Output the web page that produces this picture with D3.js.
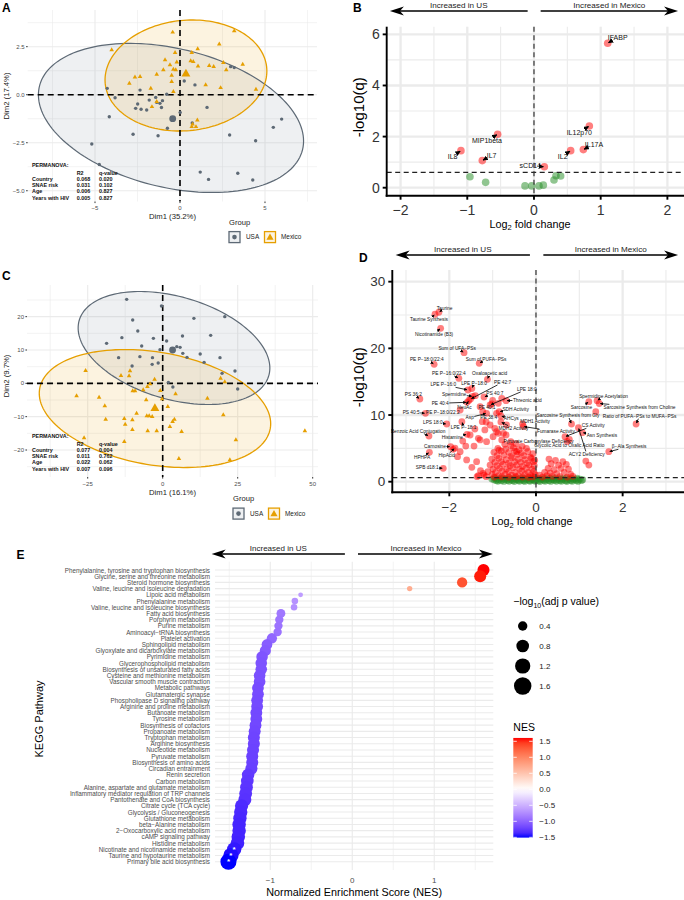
<!DOCTYPE html>
<html>
<head>
<meta charset="utf-8">
<script src="https://cdn.jsdelivr.net/npm/d3@7"></script>
<style>
  body { margin: 0; background: #fff; }
  svg { font-family: "Liberation Sans", Arial, Helvetica, sans-serif; }
</style>
</head>
<body>
<svg id="fig" width="684" height="900"></svg>
<script>
// ---------------- DATA ----------------
// Panel A: PCA of plasma biomarkers (Dim1, Dim2)
const pcaA_usa = [[-4.28,0.33],[-3.82,-0.16],[-2.35,0.24],[-4.16,-1.15],[-2.49,-0.48],[-2.61,-0.71],[-2.29,-0.76],[-1.96,-0.80],[-1.81,-0.28],[-1.37,-0.40],[-1.18,-0.45],[-1.09,-0.67],[-1.03,-0.31],[-1.43,-0.14],[-0.78,0.02],[-0.74,-1.75],[0.01,-0.92],[0.25,0.71],[0.88,0.51],[0.72,-1.47],[1.59,-0.66],[-2.76,-2.06],[-1.29,-2.14],[-5.19,-2.57],[-4.75,-3.63],[1.19,-4.03],[1.68,-4.41],[2.92,-2.10],[3.40,-4.09],[4.28,-4.44],[4.45,-2.40],[5.49,-1.70],[5.98,-1.27],[2.98,1.46],[3.19,1.41]];
const pcaA_mexico = [[-0.43,3.25],[3.19,3.32],[-4.02,2.33],[-0.29,2.19],[0.69,2.19],[1.04,2.38],[2.31,2.63],[-0.88,1.81],[-0.59,1.55],[-0.19,1.69],[0.63,1.76],[0.78,1.72],[-0.98,1.29],[-0.39,1.32],[-0.25,1.29],[-1.37,1.06],[-2.65,0.91],[-2.35,0.94],[-0.49,1.0],[-0.49,0.68],[-2.98,0.59],[-1.72,0.33],[-0.39,0.16],[1.06,1.49],[1.72,1.51],[1.98,1.46],[2.72,1.29],[2.39,0.36],[1.51,0.51],[-1.37,-0.36],[-1.65,-0.63],[1.02,-1.32],[0.74,-1.54],[0.69,-1.67],[0.94,-1.67],[2.55,1.67],[3.69,1.58],[4.47,0.28]];
const pcaA_centroids = [[-0.43,-1.25],[0.35,1.08]];          // USA, Mexico
// ellipse: centre x, centre y, half width, half height, tilt phase
const ellipseA_usa = [-0.53,-1.21,7.8,3.88,-0.315];
const ellipseA_mexico = [0.35,1.0,4.76,2.89,0.08];
const permTerms = ["Country","SNAE risk","Age","Years with HIV"];
const permA_R2 = ["0.068","0.031","0.006","0.005"];
const permA_q  = ["0.020","0.102","0.827","0.827"];

// Panel C: PCA of metabolome
const pcaC_usa = [[-12.0,25.2],[-0.4,23.2],[-10.0,19.0],[-8.3,15.7],[-18.7,12.0],[-13.6,13.7],[-7.0,11.2],[-3.1,13.5],[1.3,12.7],[-0.9,10.1],[4.7,11.0],[5.8,10.8],[6.7,9.0],[8.1,7.8],[6.6,14.2],[10.4,19.5],[16.0,14.4],[12.5,8.8],[13.8,6.3],[19.1,7.7],[20.7,20.0],[-14.7,7.7],[-10.2,5.2],[-7.6,8.0],[-3.4,7.7],[-3.5,5.7],[-1.5,6.1],[1.9,0.3],[3.4,-1.1],[19.8,3.0],[24.1,3.7],[25.0,-1.7]];
const pcaC_mexico = [[-25.7,3.8],[-28.7,-3.8],[-21.2,-4.2],[-19.3,-6.8],[-19.0,-10.8],[-26.2,-16.4],[-12.8,-10.6],[-12.5,-12.3],[-12.8,-17.5],[-10.1,-13.9],[-8.7,-9.0],[-10.1,-11.0],[-13.9,2.3],[-11.2,2.2],[-10.9,3.75],[-10.0,-2.3],[-9.2,-2.3],[-6.5,-2.0],[-5.1,-1.0],[-4.2,-0.2],[-2.7,1.2],[-5.5,-5.0],[-5.3,-9.8],[-4.5,-9.8],[-3.5,-10.0],[-5.0,-14.3],[-2.0,-14.3],[-0.8,-2.2],[-0.2,-4.7],[1.7,-7.0],[2.4,-13.0],[3.3,-11.5],[3.9,-10.8],[4.3,-3.2],[6.3,-14.5],[5.4,-22.6],[14.9,-4.5],[20.2,-9.5],[19.3,1.5],[20.7,0.4],[22.4,-23.0],[24.4,-17.0],[47.4,-14.3]];
const pcaC_centroids = [[3.3,10.0],[-2.6,-7.5]];
const ellipseC_usa = [3.77,10.6,31.95,16.95,-0.362];
const ellipseC_mexico = [-2.57,-7.56,38.57,17.7,-0.26];
const permC_R2 = ["0.077","0.011","0.022","0.007"];
const permC_q  = ["0.004","0.762","0.062","0.096"];

// Panel B: cytokine volcano
const cytoNames = ["IFABP","IL12p70","IL17A","IL2","sCD14","MIP1beta","IL8","IL7"];
const cytoLFC   = [1.105,0.83,0.74,0.55,0.155,-0.545,-1.095,-0.775];
const cytoLogQ  = [5.65,2.415,1.49,1.45,0.82,2.09,1.45,1.06];
const cytoLabX  = [1.255,0.68,0.90,0.43,-0.055,-0.705,-1.22,-0.635];
const cytoLabY  = [5.89,2.17,1.71,1.24,0.86,1.84,1.24,1.27];
const cytoNS    = [[-0.96,0.43],[-0.725,0.21],[-0.135,0.07],[-0.035,0.07],[0.075,0.07],[0.14,0.10],[0.30,0.30],[0.33,0.47],[0.40,0.46]];

// Panel D: metabolite volcano, labelled hits
const metNames = ["Taurine","Taurine Synthesis","Nicotinamide (B3)","Sum of UFA\u2212PSs","Sum of PUFA\u2212PSs","PE P\u221218:0/22:4","PE P\u221216:0/22:4","Oxaloacetic acid","LPE P\u221216:0","LPE P\u221218:0","PE 42:7","Spermidine","PS 40:7","LPE 18:0","Threonic acid","PS 36:2","PE 40:4","NeuAc","PE 40:1","SDH Activity","PS 40:5","PE P\u221218:0/22:2","Asp","PE 38:4","AHCys","LPS 18:0","LPE P\u221218:1","MDH2 Activity","Benzoic Acid Conjugation","Histamine","Carnosine","HipAcid","HPHPA","SPB d18:1","MDH1 Activity","Fumarase Activity","Pyruvate Carboxylase Deficiency","Glycolic Acid to Oxalic Acid Ratio","Sarcosine Synthesis from Gly","CS Activity","Asn Synthesis","ACY2 Deficiency","\u03b2\u2212Ala Synthesis","Spermidine Acetylation","Sarcosine","Sarcosine Synthesis from Choline","Ratio of PUFA\u2212PSs to MUFA\u2212PSs"];
const metLFC  = [-2.24,-2.33,-2.20,-1.66,-1.31,-2.35,-1.78,-1.12,-1.57,-1.48,-1.51,-1.46,-1.20,-1.06,-0.69,-2.68,-1.59,-1.55,-1.02,-0.85,-2.55,-1.75,-1.14,-1.15,-0.81,-2.06,-1.71,-0.81,-2.47,-1.59,-1.97,-1.87,-2.46,-2.14,-0.31,-0.29,0.77,0.72,0.82,0.67,1.07,0.98,1.68,1.41,1.22,1.46,2.31];
const metLogQ = [25.41,25.11,23.01,19.35,17.76,17.61,15.51,15.36,13.75,13.98,12.40,12.81,12.70,11.50,12.15,12.40,11.91,12.18,11.65,10.50,10.26,10.75,10.26,8.95,9.85,8.65,9.00,8.95,6.85,7.11,5.25,5.05,4.41,2.01,8.65,8.28,6.36,6.03,8.65,6.75,7.35,8.10,4.50,12.15,12.00,11.73,8.65];
const metLabX = [-2.11,-2.47,-2.35,-1.82,-1.15,-2.52,-2.01,-1.07,-2.14,-1.43,-0.77,-1.89,-0.95,-0.21,-0.20,-2.83,-2.21,-1.65,-1.13,-0.47,-2.88,-2.15,-1.53,-1.09,-0.57,-2.38,-1.67,-0.52,-2.72,-1.93,-2.33,-2.06,-2.63,-2.51,-0.02,0.46,0.06,0.77,0.74,1.32,1.52,1.17,2.15,1.56,1.05,2.39,2.39];
const metLabY = [26.01,24.30,22.15,20.01,18.36,18.30,16.26,16.20,14.55,14.70,14.91,13.11,13.26,13.86,12.25,13.11,11.76,11.10,11.10,10.90,10.41,10.41,9.60,9.60,9.51,8.95,8.16,8.01,7.60,6.66,5.35,3.90,3.66,2.16,9.10,7.50,6.10,5.50,9.95,8.40,7.00,4.15,5.25,12.85,11.20,11.20,9.85];
// other significant metabolites (log2FC, -log10 q)
const metSigOther = [[1.38,10.5],[1.15,3.1],[1.22,2.5],[-1.29,6.26],[-1.18,7.76],[-1.06,8.5],[-0.95,8.01],[-0.87,7.26],[-0.99,6.75],[-0.79,6.26],[-0.69,7.0],[-0.58,6.0],[-0.45,4.5],[-0.85,4.75],[-1.29,11.25],[-1.23,10.5],[-0.91,10.26],[-0.87,11.76],[-0.79,12.51],[-1.62,5.35],[-1.43,5.35],[-1.69,6.1],[-1.91,4.86],[-1.81,3.75],[-1.6,3.26],[-1.48,2.16],[-1.37,3.0],[-1.28,1.65],[-1.15,0.75],[-1.41,7.9],[-1.24,9.0],[-1.33,6.51],[-0.91,7.5],[-0.75,7.26],[-0.68,8.5],[-1.75,4.5],[-1.14,6.0],[-1.33,0.9],[-1.22,1.26],[-1.52,7.0],[-1.40,12.9],[-1.0,12.2],
[-0.72,5.6],[-0.58,5.4],[-0.46,5.7],[-0.32,5.3],[-0.88,5.0],[-0.7,4.9],[-0.52,5.1],[-0.39,4.8],[-0.22,5.0],[-0.97,4.4],[-0.8,4.6],[-0.63,4.4],[-0.49,4.6],[-0.34,4.3],[-0.19,4.5],[-0.07,4.2],[-0.9,3.9],[-0.74,4.0],[-0.58,3.8],[-0.43,4.1],[-0.28,3.9],[-0.13,3.7],[-1.02,3.4],[-0.86,3.5],[-0.69,3.3],[-0.55,3.6],[-0.41,3.4],[-0.26,3.3],[-0.11,3.5],[-0.03,3.2],[-0.95,2.9],[-0.8,3.0],[-0.63,2.8],[-0.49,3.0],[-0.35,2.9],[-0.2,2.8],[-0.06,3.0],[-1.06,2.5],[-0.9,2.4],[-0.76,2.6],[-0.6,2.4],[-0.45,2.5],[-0.31,2.3],[-0.16,2.5],[-0.04,2.4],[-0.99,1.9],[-0.84,2.0],[-0.68,1.9],[-0.53,2.1],[-0.38,1.9],[-0.23,2.0],[-0.09,1.9],[-1.11,1.5],[-0.93,1.4],[-0.78,1.6],[-0.63,1.5],[-0.48,1.4],[-0.33,1.6],[-0.18,1.4],[-0.05,1.5],[-1.2,1.0],[-1.01,1.1],[-0.86,0.9],[-0.71,1.1],[-0.56,1.0],[-0.41,0.9],[-0.26,1.1],[-0.12,0.95],[-0.02,1.05],[-1.36,0.75],[-0.96,0.7],[-0.79,0.72],[-0.63,0.68],[-0.47,0.74],[-0.31,0.7],[-0.17,0.66],[-0.07,0.72],
[0.3,3.4],[0.45,3.2],[0.62,3.0],[0.35,2.7],[0.52,2.5],[0.7,2.6],[0.28,2.0],[0.42,1.8],[0.58,2.0],[0.75,1.9],[0.33,1.3],[0.48,1.2],[0.65,1.4],[0.8,1.1],[0.38,0.8],[0.55,0.75],[0.72,0.7],[0.25,0.9],[0.85,0.8],[0.08,1.0],[0.15,0.7],[0.2,1.4]];
// non significant metabolites
const metNS = [[-0.95,0.52],[-0.82,0.55],[-0.7,0.5],[-0.6,0.54],[-0.48,0.51],[-0.36,0.56],[-0.25,0.5],[-0.12,0.53],[-0.03,0.55],[0.08,0.5],[0.2,0.54],[0.33,0.52],[0.45,0.56],[0.58,0.5],[0.7,0.53],[0.83,0.51],[0.95,0.55],
[-1.02,0.4],[-0.9,0.38],[-0.77,0.42],[-0.65,0.39],[-0.52,0.41],[-0.42,0.37],[-0.3,0.42],[-0.18,0.4],[-0.07,0.38],[0.04,0.41],[0.15,0.39],[0.27,0.42],[0.4,0.38],[0.52,0.4],[0.63,0.42],[0.77,0.37],[0.9,0.4],[1.02,0.39],
[-0.97,0.28],[-0.85,0.26],[-0.72,0.3],[-0.58,0.27],[-0.46,0.29],[-0.34,0.25],[-0.22,0.28],[-0.1,0.3],[0.0,0.26],[0.11,0.29],[0.23,0.27],[0.36,0.3],[0.48,0.26],[0.6,0.28],[0.72,0.25],[0.86,0.29],[0.98,0.27],[1.08,0.3],
[-0.92,0.16],[-0.8,0.14],[-0.66,0.18],[-0.54,0.15],[-0.41,0.17],[-0.28,0.13],[-0.15,0.16],[-0.05,0.18],[0.06,0.14],[0.18,0.17],[0.3,0.15],[0.42,0.18],[0.55,0.14],[0.68,0.16],[0.8,0.13],[0.93,0.17],[1.05,0.15],
[-0.88,0.05],[-0.74,0.04],[-0.62,0.07],[-0.5,0.03],[-0.38,0.06],[-0.26,0.04],[-0.14,0.07],[-0.02,0.05],[0.09,0.03],[0.21,0.06],[0.34,0.04],[0.47,0.07],[0.59,0.05],[0.71,0.03],[0.84,0.06],[0.97,0.04]];

// Panel E: KEGG pathway enrichment
const keggPathways = ["Phenylalanine, tyrosine and tryptophan biosynthesis","Glycine, serine and threonine metabolism","Steroid hormone biosynthesis","Valine, leucine and isoleucine degradation","Lipoic acid metabolism","Phenylalanine metabolism","Valine, leucine and isoleucine biosynthesis","Fatty acid biosynthesis","Porphyrin metabolism","Purine metabolism","Aminoacyl\u2212tRNA biosynthesis","Platelet activation","Sphingolipid metabolism","Glyoxylate and dicarboxylate metabolism","Pyrimidine metabolism","Glycerophospholipid metabolism","Biosynthesis of unsaturated fatty acids","Cysteine and methionine metabolism","Vascular smooth muscle contraction","Metabolic pathways","Glutamatergic synapse","Phospholipase D signaling pathway","Arginine and proline metabolism","Butanoate metabolism","Tyrosine metabolism","Biosynthesis of cofactors","Propanoate metabolism","Tryptophan metabolism","Arginine biosynthesis","Nucleotide metabolism","Pyruvate metabolism","Biosynthesis of amino acids","Circadian entrainment","Renin secretion","Carbon metabolism","Alanine, aspartate and glutamate metabolism","Inflammatory mediator regulation of TRP channels","Pantothenate and CoA biosynthesis","Citrate cycle (TCA cycle)","Glycolysis / Gluconeogenesis","Glutathione metabolism","beta\u2212Alanine metabolism","2\u2212Oxocarboxylic acid metabolism","cAMP signaling pathway","Histidine metabolism","Nicotinate and nicotinamide metabolism","Taurine and hypotaurine metabolism","Primary bile acid biosynthesis"];
const keggNES = [1.60,1.56,1.34,0.70,-0.63,-0.70,-0.71,-0.87,-0.89,-0.90,-0.91,-0.98,-1.04,-1.06,-1.10,-1.11,-1.11,-1.13,-1.13,-1.15,-1.15,-1.16,-1.16,-1.17,-1.17,-1.18,-1.19,-1.20,-1.20,-1.21,-1.22,-1.22,-1.23,-1.27,-1.28,-1.29,-1.30,-1.31,-1.35,-1.36,-1.37,-1.38,-1.38,-1.39,-1.40,-1.44,-1.48,-1.51];
const keggLogP = [0.72,0.72,0.50,0.07,0.04,0.15,0.15,0.35,0.30,0.30,0.30,0.50,0.55,0.60,0.65,0.66,0.66,0.67,0.67,0.68,0.68,0.69,0.69,0.70,0.70,0.70,0.71,0.71,0.72,0.72,0.72,0.72,0.73,0.78,0.80,0.82,0.83,0.85,0.88,0.90,0.90,0.92,0.92,0.93,0.95,1.05,1.20,1.35];
const keggSignif = ["Nicotinate and nicotinamide metabolism","Taurine and hypotaurine metabolism","Primary bile acid biosynthesis"];
const sizeBreaks = [0.4,0.8,1.2,1.6];
const nesBreaks = [1.5,1.0,0.5,0.0,-0.5,-1.0,-1.5];

// ---------------- DRAWING ----------------
const svg = d3.select("#fig");
const GRID = "#ebebeb";
const USA_COL = "#5d6975", MEX_COL = "#e69f00";
const fmtMinus = s => String(s).replace("-", "\u2212");

const defs = svg.append("defs");
defs.append("marker").attr("id", "tip").attr("viewBox", "0 0 10 10")
  .attr("refX", 9).attr("refY", 5).attr("markerWidth", 4).attr("markerHeight", 4)
  .attr("orient", "auto")
  .append("path").attr("d", "M0,0L10,5L0,10Z").attr("fill", "#000");

function panelLetter(t, x, y) {
  svg.append("text").attr("x", x).attr("y", y).attr("font-size", 12)
    .attr("font-weight", "bold").attr("fill", "#000").text(t);
}

function ellipsePath(e, x, y) {
  const pts = d3.range(0, 2 * Math.PI, 0.04)
    .map(t => [x(e[0] + e[2] * Math.cos(t)), y(e[1] + e[3] * Math.sin(t + e[4]))]);
  return d3.line()(pts) + "Z";
}

// a long arrow with a closed head at xb
function bigArrow(xa, xb, yy) {
  const dir = Math.sign(xb - xa), len = 14, half = 4.6;
  svg.append("line").attr("x1", xa).attr("x2", xb - dir * 8).attr("y1", yy).attr("y2", yy)
    .attr("stroke", "#000").attr("stroke-width", 1.3);
  svg.append("path")
    .attr("d", `M${xb},${yy}L${xb - dir * len},${yy - half}L${xb - dir * len * 0.72},${yy}L${xb - dir * len},${yy + half}Z`)
    .attr("fill", "#000");
}

function boxEdge(cx, cy, w, h, tx, ty) {
  const dx = tx - cx, dy = ty - cy;
  const sx = dx !== 0 ? (w / 2) / Math.abs(dx) : Infinity;
  const sy = dy !== 0 ? (h / 2) / Math.abs(dy) : Infinity;
  const s = Math.min(sx, sy, 1);
  return [cx + dx * s, cy + dy * s];
}

// text labels with short connecting arrows (ggrepel style)
function repelLabels(g, x, y, names, px, py, lx, ly, fs, sw) {
  names.forEach((nm, i) => {
    const tx = x(lx[i]), ty = y(ly[i]);
    const t = g.append("text").attr("x", tx).attr("y", ty).attr("text-anchor", "middle")
      .attr("dominant-baseline", "central").attr("font-size", fs).attr("fill", "#111").text(nm);
    const w = t.node().getComputedTextLength();
    const ptx = x(px[i]), pty = y(py[i]);
    const [sx, sy] = boxEdge(tx, ty, w + 1, fs + 0.5, ptx, pty);
    const d = Math.hypot(ptx - sx, pty - sy);
    if (d > 2) {
      const k = Math.max(0, (d - 1) / d);
      g.insert("line", "text").attr("x1", sx).attr("y1", sy)
        .attr("x2", sx + (ptx - sx) * k).attr("y2", sy + (pty - sy) * k)
        .attr("stroke", "#000").attr("stroke-width", sw).attr("marker-end", "url(#tip)");
    }
  });
}

// ---------- PCA panels (A, C) ----------
function drawPCA(c) {
  const x = d3.scaleLinear().domain(c.xdom).range([c.left, c.right]);
  const y = d3.scaleLinear().domain(c.ydom).range([c.bottom, c.top]);
  const g = svg.append("g");

  g.selectAll(".xmin").data(c.xMinor).join("line")
    .attr("x1", d => x(d)).attr("x2", d => x(d)).attr("y1", c.top).attr("y2", c.bottom)
    .attr("stroke", GRID).attr("stroke-width", 0.6);
  g.selectAll(".ymin").data(c.yMinor).join("line")
    .attr("y1", d => y(d)).attr("y2", d => y(d)).attr("x1", c.left).attr("x2", c.right)
    .attr("stroke", GRID).attr("stroke-width", 0.6);
  g.selectAll(".xmaj").data(c.xMajor).join("line")
    .attr("x1", d => x(d)).attr("x2", d => x(d)).attr("y1", c.top).attr("y2", c.bottom)
    .attr("stroke", GRID).attr("stroke-width", 1.1);
  g.selectAll(".ymaj").data(c.yMajor).join("line")
    .attr("y1", d => y(d)).attr("y2", d => y(d)).attr("x1", c.left).attr("x2", c.right)
    .attr("stroke", GRID).attr("stroke-width", 1.1);

  // ellipse fills then outlines
  g.append("path").attr("d", ellipsePath(c.eUsa, x, y)).attr("fill", "#7d8b99").attr("fill-opacity", 0.13);
  g.append("path").attr("d", ellipsePath(c.eMex, x, y)).attr("fill", MEX_COL).attr("fill-opacity", 0.12);
  g.append("path").attr("d", ellipsePath(c.eUsa, x, y)).attr("fill", "none").attr("stroke", USA_COL).attr("stroke-width", 1.2);
  g.append("path").attr("d", ellipsePath(c.eMex, x, y)).attr("fill", "none").attr("stroke", MEX_COL).attr("stroke-width", 1.3);

  // zero lines
  g.append("line").attr("x1", c.left).attr("x2", c.right).attr("y1", y(0)).attr("y2", y(0))
    .attr("stroke", "#000").attr("stroke-width", 1.6).attr("stroke-dasharray", "6,4");
  g.append("line").attr("x1", x(0)).attr("x2", x(0)).attr("y1", c.top).attr("y2", c.bottom)
    .attr("stroke", "#000").attr("stroke-width", 1.6).attr("stroke-dasharray", "6,4");

  // points
  g.selectAll(".pu").data(c.usa).join("circle")
    .attr("cx", d => x(d[0])).attr("cy", d => y(d[1])).attr("r", 1.7).attr("fill", USA_COL);
  const tri = d3.symbol(d3.symbolTriangle);
  g.selectAll(".pm").data(c.mex).join("path")
    .attr("d", tri.size(9)()).attr("transform", d => `translate(${x(d[0])},${y(d[1])})`).attr("fill", MEX_COL);
  g.append("circle").attr("cx", x(c.cent[0][0])).attr("cy", y(c.cent[0][1])).attr("r", 3.4).attr("fill", USA_COL);
  g.append("path").attr("d", d3.symbol(d3.symbolTriangle).size(34)())
    .attr("transform", `translate(${x(c.cent[1][0])},${y(c.cent[1][1])})`).attr("fill", MEX_COL);

  // axes text
  g.selectAll(".yt").data(c.yMajor).join("text")
    .attr("x", c.left - 3).attr("y", d => y(d)).attr("text-anchor", "end").attr("dominant-baseline", "central")
    .attr("font-size", 6).attr("fill", "#4d4d4d").text(d => c.yFmt(d));
  g.selectAll(".ytk").data(c.yMajor).join("line")
    .attr("x1", c.left - 1.6).attr("x2", c.left).attr("y1", d => y(d)).attr("y2", d => y(d))
    .attr("stroke", "#333").attr("stroke-width", 1);
  g.selectAll(".xt").data(c.xMajor).join("text")
    .attr("x", d => x(d)).attr("y", c.bottom + 8.5).attr("text-anchor", "middle")
    .attr("font-size", 6).attr("fill", "#4d4d4d").text(d => fmtMinus(d));
  g.selectAll(".xtk").data(c.xMajor).join("line")
    .attr("x1", d => x(d)).attr("x2", d => x(d)).attr("y1", c.bottom).attr("y2", c.bottom + 1.6)
    .attr("stroke", "#333").attr("stroke-width", 1);
  g.append("text").attr("x", 172.5).attr("y", c.xTitleY).attr("text-anchor", "middle")
    .attr("font-size", 7.7).attr("fill", "#222").text(c.xTitle);
  g.append("text").attr("transform", `translate(6.5,${c.yTitleY}) rotate(-90)`).attr("text-anchor", "middle")
    .attr("dominant-baseline", "central").attr("font-size", 7.7).attr("fill", "#222").text(c.yTitle);

  // PERMANOVA table
  const tb = g.append("g").attr("font-size", 5.4).attr("font-weight", "bold").attr("fill", "#111");
  tb.append("text").attr("x", 32).attr("y", c.tabY).text("PERMANOVA:");
  tb.append("text").attr("x", 76.7).attr("y", c.tabY + 8).text("R2");
  tb.append("text").attr("x", 99).attr("y", c.tabY + 8).text("q-value");
  permTerms.forEach((t, i) => {
    const yy = c.tabY + 14.2 + i * 6.3;
    tb.append("text").attr("x", 32).attr("y", yy).text(t);
    tb.append("text").attr("x", 76.7).attr("y", yy).text(c.r2[i]);
    tb.append("text").attr("x", 99).attr("y", yy).text(c.q[i]);
  });

  // legend
  const lx = c.legX, ly = c.legY, ky = ly + 12.6;
  g.append("text").attr("x", lx).attr("y", ly).attr("font-size", 7.6).attr("fill", "#222").text("Group");
  g.append("rect").attr("x", lx).attr("y", ky - 5.5).attr("width", 11).attr("height", 11)
    .attr("fill", "#eef0f2").attr("stroke", USA_COL).attr("stroke-width", 1.3);
  g.append("circle").attr("cx", lx + 5.5).attr("cy", ky).attr("r", 2.3).attr("fill", USA_COL);
  g.append("text").attr("x", lx + 17).attr("y", ky + 2.3).attr("font-size", 6.4).attr("fill", "#222").text("USA");
  g.append("rect").attr("x", lx + 35.5).attr("y", ky - 5.5).attr("width", 11).attr("height", 11)
    .attr("fill", "#fcf3e0").attr("stroke", MEX_COL).attr("stroke-width", 1.3);
  g.append("path").attr("d", d3.symbol(d3.symbolTriangle).size(22)())
    .attr("transform", `translate(${lx + 41},${ky + 0.5})`).attr("fill", MEX_COL);
  g.append("text").attr("x", lx + 52).attr("y", ky + 2.3).attr("font-size", 6.4).attr("fill", "#222").text("Mexico");
}

drawPCA({
  left: 27.7, right: 317, top: 10, bottom: 201.5,
  xdom: [-8.96, 8.06], ydom: [-5.56, 4.41],
  xMajor: [-5, 0, 5], xMinor: [-7.5, -2.5, 2.5, 7.5],
  yMajor: [-5, -2.5, 0, 2.5], yMinor: [-3.75, -1.25, 1.25, 3.75],
  yFmt: d => fmtMinus(d3.format(".1f")(d)),
  usa: pcaA_usa, mex: pcaA_mexico, cent: pcaA_centroids,
  eUsa: ellipseA_usa, eMex: ellipseA_mexico,
  xTitle: "Dim1 (35.2%)", yTitle: "Dim2 (17.4%)", xTitleY: 218.5, yTitleY: 96,
  tabY: 166.5, r2: permA_R2, q: permA_q,
  legX: 229, legY: 224.5
});

drawPCA({
  left: 27, right: 318, top: 285, bottom: 477,
  xdom: [-45.23, 51.77], ydom: [-28.1, 29.5],
  xMajor: [-25, 0, 25, 50], xMinor: [-37.5, -12.5, 12.5, 37.5],
  yMajor: [-20, -10, 0, 10, 20], yMinor: [-25, -15, -5, 5, 15, 25],
  yFmt: d => fmtMinus(d),
  usa: pcaC_usa, mex: pcaC_mexico, cent: pcaC_centroids,
  eUsa: ellipseC_usa, eMex: ellipseC_mexico,
  xTitle: "Dim1 (16.1%)", yTitle: "Dim2 (9.7%)", xTitleY: 495, yTitleY: 376,
  tabY: 437.5, r2: permC_R2, q: permC_q,
  legX: 233, legY: 501
});

// ---------- Volcano panels (B, D) ----------
function drawVolcano(c) {
  const x = d3.scaleLinear().domain(c.xdom).range([c.left, c.right]);
  const y = d3.scaleLinear().domain(c.ydom).range([c.bottom, c.top]);
  const g = svg.append("g");

  g.selectAll(".xmin").data(c.xMinor).join("line")
    .attr("x1", d => x(d)).attr("x2", d => x(d)).attr("y1", c.top).attr("y2", c.bottom)
    .attr("stroke", GRID).attr("stroke-width", 1.1);
  g.selectAll(".ymin").data(c.yMinor).join("line")
    .attr("y1", d => y(d)).attr("y2", d => y(d)).attr("x1", c.left).attr("x2", c.right)
    .attr("stroke", GRID).attr("stroke-width", 1.1);
  g.selectAll(".xmaj").data(c.xMajor).join("line")
    .attr("x1", d => x(d)).attr("x2", d => x(d)).attr("y1", c.top).attr("y2", c.bottom)
    .attr("stroke", GRID).attr("stroke-width", 2.3);
  g.selectAll(".ymaj").data(c.yMajor).join("line")
    .attr("y1", d => y(d)).attr("y2", d => y(d)).attr("x1", c.left).attr("x2", c.right)
    .attr("stroke", GRID).attr("stroke-width", 2.3);

  // points
  g.selectAll(".ns").data(c.ns).join("circle")
    .attr("cx", d => x(d[0])).attr("cy", d => y(d[1])).attr("r", c.r)
    .attr("fill", "forestgreen").attr("fill-opacity", 0.5);
  g.selectAll(".so").data(c.sigOther).join("circle")
    .attr("cx", d => x(d[0])).attr("cy", d => y(d[1])).attr("r", c.r)
    .attr("fill", "red").attr("fill-opacity", 0.5);
  g.selectAll(".sl").data(c.names).join("circle")
    .attr("cx", (d, i) => x(c.px[i])).attr("cy", (d, i) => y(c.py[i])).attr("r", c.r)
    .attr("fill", "red").attr("fill-opacity", 0.5);

  // threshold lines
  g.append("line").attr("x1", c.left).attr("x2", c.right).attr("y1", y(c.thr)).attr("y2", y(c.thr))
    .attr("stroke", "#222").attr("stroke-width", 1.2).attr("stroke-dasharray", "5,3.5");
  g.append("line").attr("x1", x(0)).attr("x2", x(0)).attr("y1", c.top).attr("y2", c.bottom)
    .attr("stroke", "#333").attr("stroke-width", 1.2).attr("stroke-dasharray", "5,3.5");

  // labels
  repelLabels(g.append("g"), x, y, c.names, c.px, c.py, c.lx, c.ly, c.labFs, c.arrW);

  // axes
  g.append("line").attr("x1", c.left).attr("x2", c.left).attr("y1", c.top).attr("y2", c.bottom + 1)
    .attr("stroke", "#000").attr("stroke-width", 1.9);
  g.append("line").attr("x1", c.left - 1).attr("x2", c.right).attr("y1", c.bottom).attr("y2", c.bottom)
    .attr("stroke", "#000").attr("stroke-width", 1.9);
  g.selectAll(".ytk").data(c.yMajor).join("line")
    .attr("x1", c.left - 4).attr("x2", c.left).attr("y1", d => y(d)).attr("y2", d => y(d))
    .attr("stroke", "#000").attr("stroke-width", 1.9);
  g.selectAll(".xtk").data(c.xMajor).join("line")
    .attr("x1", d => x(d)).attr("x2", d => x(d)).attr("y1", c.bottom).attr("y2", c.bottom + 4)
    .attr("stroke", "#000").attr("stroke-width", 1.9);
  g.selectAll(".yt").data(c.yMajor).join("text")
    .attr("x", c.left - 7).attr("y", d => y(d)).attr("text-anchor", "end").attr("dominant-baseline", "central")
    .attr("font-size", c.tickFs).attr("fill", "#333").text(d => fmtMinus(d));
  g.selectAll(".xt").data(c.xMajor).join("text")
    .attr("x", d => x(d)).attr("y", c.xTickY).attr("text-anchor", "middle")
    .attr("font-size", c.tickFs).attr("fill", "#333").text(d => fmtMinus(d));

  const xt = g.append("text").attr("x", x(0) - 4).attr("y", c.xTitleY).attr("text-anchor", "middle")
    .attr("font-size", 10.8).attr("fill", "#000");
  xt.append("tspan").text("Log");
  xt.append("tspan").attr("font-size", 7.5).attr("dy", 2.5).text("2");
  xt.append("tspan").attr("dy", -2.5).text(" fold change");
  g.append("text").attr("transform", `translate(${c.yTitleX},${(c.top + c.bottom) / 2 - 4}) rotate(-90)`)
    .attr("text-anchor", "middle").attr("dominant-baseline", "central")
    .attr("font-size", 15).attr("fill", "#000").text("-log10(q)");

  // direction arrows
  bigArrow(x(c.arrUS[0]), x(c.arrUS[1]), c.arrY);
  bigArrow(x(c.arrMX[0]), x(c.arrMX[1]), c.arrY);
  svg.append("text").attr("x", (x(c.arrUS[0]) + x(c.arrUS[1])) / 2).attr("y", c.arrY - 3.4)
    .attr("text-anchor", "middle").attr("font-size", 8.1).attr("fill", "#222").text("Increased in US");
  svg.append("text").attr("x", (x(c.arrMX[0]) + x(c.arrMX[1])) / 2).attr("y", c.arrY - 3.4)
    .attr("text-anchor", "middle").attr("font-size", 8.1).attr("fill", "#222").text("Increased in Mexico");
}

drawVolcano({
  left: 386.7, right: 684, top: 26.7, bottom: 195.7,
  xdom: [-2.208, 2.249], ydom: [-0.313, 6.30],
  xMajor: [-2, -1, 0, 1, 2], xMinor: [-1.5, -0.5, 0.5, 1.5],
  yMajor: [0, 2, 4, 6], yMinor: [1, 3, 5],
  ns: cytoNS, sigOther: [], names: cytoNames, px: cytoLFC, py: cytoLogQ, lx: cytoLabX, ly: cytoLabY,
  r: 3.8, thr: 0.6, labFs: 7, arrW: 1.3, tickFs: 14,
  xTickY: 215, xTitleY: 227.5, yTitleX: 358,
  arrUS: [-0.095, -2.16], arrMX: [0.10, 2.16], arrY: 11
});

drawVolcano({
  left: 392.3, right: 684, top: 270, bottom: 492.3,
  xdom: [-3.316, 3.416], ydom: [-1.59, 31.75],
  xMajor: [-2, 0, 2], xMinor: [-3, -1, 1, 3],
  yMajor: [0, 10, 20, 30], yMinor: [5, 15, 25],
  ns: metNS, sigOther: metSigOther, names: metNames, px: metLFC, py: metLogQ, lx: metLabX, ly: metLabY,
  r: 3.4, thr: 0.6, labFs: 4.8, arrW: 0.8, tickFs: 13.5,
  xTickY: 512, xTitleY: 525, yTitleX: 358,
  arrUS: [-0.14, -3.24], arrMX: [0.17, 3.28], arrY: 255
});

// ---------- Panel E: KEGG enrichment ----------
(function drawKegg() {
  const left = 215, right = 493.3, top = 561.7, bottom = 870;
  const x = d3.scaleLinear().domain([-1.674, 1.72]).range([left, right]);
  const y = d3.scalePoint().domain(keggPathways).range([570, 861.7]);
  const col = d3.scaleLinear().domain([-1.51, 0, 1.60]).range(["blue", "white", "red"]).interpolate(d3.interpolateLab);
  const area = d3.scaleLinear().domain([0.4, 1.6]).range([22, 76]);
  const rad = v => Math.sqrt(Math.max(area(v), 4));
  const g = svg.append("g");

  g.selectAll(".hg").data(keggPathways).join("line")
    .attr("x1", left).attr("x2", right).attr("y1", d => y(d)).attr("y2", d => y(d))
    .attr("stroke", GRID).attr("stroke-width", 1.1);
  g.selectAll(".vmin").data([-1.5, -0.5, 0.5, 1.5]).join("line")
    .attr("x1", d => x(d)).attr("x2", d => x(d)).attr("y1", top).attr("y2", bottom)
    .attr("stroke", GRID).attr("stroke-width", 0.6);
  g.selectAll(".vmaj").data([-1, 0, 1]).join("line")
    .attr("x1", d => x(d)).attr("x2", d => x(d)).attr("y1", top).attr("y2", bottom)
    .attr("stroke", GRID).attr("stroke-width", 1.1);

  g.selectAll(".lab").data(keggPathways).join("text")
    .attr("x", 210).attr("y", d => y(d)).attr("text-anchor", "end").attr("dominant-baseline", "central")
    .attr("font-size", 6.3).attr("fill", "#4d4d4d").text(d => d);

  g.selectAll(".dot").data(keggPathways).join("circle")
    .attr("cx", (d, i) => x(keggNES[i])).attr("cy", d => y(d)).attr("r", (d, i) => rad(keggLogP[i]))
    .attr("fill", (d, i) => col(keggNES[i]));
  g.selectAll(".star").data(keggSignif).join("text")
    .attr("x", d => x(keggNES[keggPathways.indexOf(d)])).attr("y", d => y(d) + 2.6)
    .attr("text-anchor", "middle").attr("font-size", 8).attr("font-weight", "bold").attr("fill", "#fff").text("*");

  g.selectAll(".xt").data([-1, 0, 1]).join("text")
    .attr("x", d => x(d)).attr("y", 883).attr("text-anchor", "middle")
    .attr("font-size", 8).attr("fill", "#4d4d4d").text(d => fmtMinus(d));
  g.append("text").attr("x", (left + right) / 2).attr("y", 896).attr("text-anchor", "middle")
    .attr("font-size", 10.8).attr("fill", "#000").text("Normalized Enrichment Score (NES)");
  g.append("text").attr("transform", `translate(39,719) rotate(-90)`).attr("text-anchor", "middle")
    .attr("dominant-baseline", "central").attr("font-size", 11).attr("fill", "#000").text("KEGG Pathway");

  bigArrow(x(-0.09), x(-1.715), 554);
  bigArrow(x(0.07), x(1.715), 554);
  svg.append("text").attr("x", 278.3).attr("y", 550.5).attr("text-anchor", "middle")
    .attr("font-size", 8).attr("fill", "#222").text("Increased in US");
  svg.append("text").attr("x", 426).attr("y", 550.5).attr("text-anchor", "middle")
    .attr("font-size", 8).attr("fill", "#222").text("Increased in Mexico");

  // size legend
  const sl = svg.append("g");
  const st = sl.append("text").attr("x", 513.3).attr("y", 605).attr("font-size", 10.5).attr("fill", "#000");
  st.append("tspan").text("\u2212log");
  st.append("tspan").attr("font-size", 7).attr("dy", 2.5).text("10");
  st.append("tspan").attr("dy", -2.5).text("(adj p value)");
  sl.selectAll("circle").data(sizeBreaks).join("circle")
    .attr("cx", 522.7).attr("cy", (d, i) => 626 + i * 20).attr("r", d => rad(d)).attr("fill", "#000");
  sl.selectAll(".sz").data(sizeBreaks).join("text")
    .attr("x", 539.3).attr("y", (d, i) => 626 + i * 20).attr("dominant-baseline", "central")
    .attr("font-size", 8).attr("fill", "#222").text(d => d3.format(".1f")(d));

  // colour bar
  const cy = d3.scaleLinear().domain([0, 1]).range([789.3, 757.3]);
  const barTop = cy(1.605), barBot = cy(-1.51);
  const grad = defs.append("linearGradient").attr("id", "nesGrad").attr("x1", 0).attr("x2", 0).attr("y1", 0).attr("y2", 1);
  d3.range(0, 1.0001, 0.05).forEach(t => {
    grad.append("stop").attr("offset", t).attr("stop-color", col(1.605 - t * (1.605 + 1.51)));
  });
  svg.append("text").attr("x", 513.3).attr("y", 731).attr("font-size", 10.5).attr("fill", "#000").text("NES");
  svg.append("rect").attr("x", 513.3).attr("y", barTop).attr("width", 19.4).attr("height", barBot - barTop)
    .attr("fill", "url(#nesGrad)");
  svg.selectAll(".cbt").data(nesBreaks).join("path")
    .attr("d", d => `M513.3,${cy(d)}h3.5M532.7,${cy(d)}h-3.5`).attr("stroke", "#fff").attr("stroke-width", 0.8);
  svg.selectAll(".cbl").data(nesBreaks).join("text")
    .attr("x", 539.3).attr("y", d => cy(d)).attr("dominant-baseline", "central")
    .attr("font-size", 8).attr("fill", "#222").text(d => fmtMinus(d3.format(".1f")(d)));
})();

panelLetter("A", 2, 12);
panelLetter("B", 353, 11.7);
panelLetter("C", 2, 280);
panelLetter("D", 359, 261.7);
panelLetter("E", 16.5, 559);
</script>
</body>
</html>
